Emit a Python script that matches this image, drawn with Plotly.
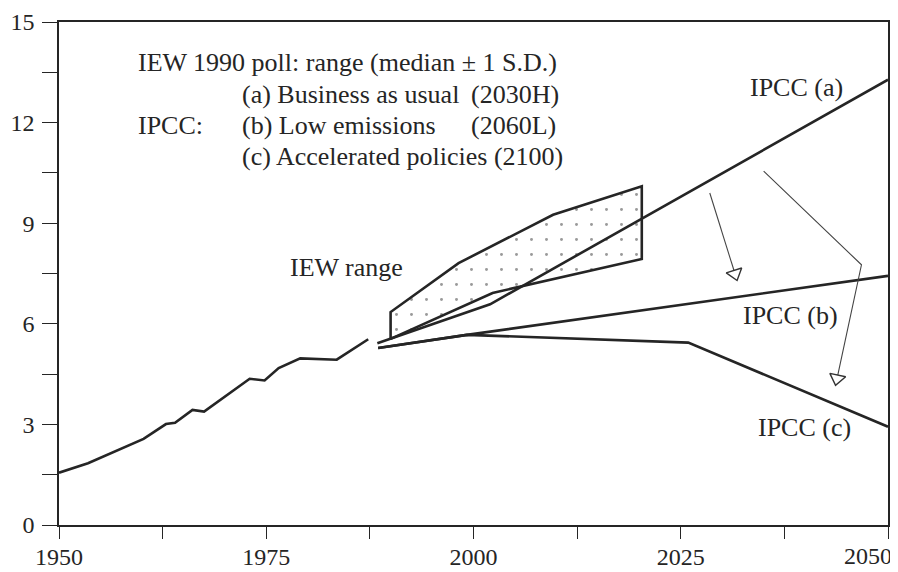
import math
import plotly.graph_objects as go

# ---- data ----
hist_years = [1950, 1953.5, 1960.2, 1962.9, 1964.0, 1966.1, 1967.5, 1973.0, 1974.8, 1976.5, 1979.1, 1983.5, 1987.3]
hist_vals = [1.56, 1.84, 2.57, 3.01, 3.05, 3.43, 3.38, 4.36, 4.31, 4.68, 4.97, 4.93, 5.54]

ipcc_a_years = [1988.4, 2002.0, 2050]
ipcc_a_vals = [5.42, 6.58, 13.28]

ipcc_b_years = [1988.5, 1999.2, 2050]
ipcc_b_vals = [5.28, 5.67, 7.43]

ipcc_c_years = [1988.5, 1999.2, 2025.9, 2050]
ipcc_c_vals = [5.28, 5.67, 5.44, 2.93]

iew_years = [1990, 1990, 1998.2, 2009.6, 2020.3, 2020.3, 2002.3, 1990]
iew_vals = [5.55, 6.35, 7.81, 9.25, 10.1, 7.93, 6.92, 5.55]

arrow1_years = [2028.5, 2031.9]
arrow1_vals = [9.90, 7.21]
arrow2_years = [2035.0, 2046.8, 2043.6]
arrow2_vals = [10.55, 7.76, 4.08]

x_ticks = [1950, 1962.5, 1975, 1987.5, 2000, 2012.5, 2025, 2037.5, 2050]
x_labels = ["1950", "", "1975", "", "2000", "", "2025", "", ""]
last_x_label = (2050, "2050")
y_ticks = [0, 1.5, 3, 4.5, 6, 7.5, 9, 10.5, 12, 13.5, 15]
y_labels = ["0", "", "3", "", "6", "", "9", "", "12", "", "15"]

legend_lines = [
    (1959.3, 13.80, "IEW 1990 poll: range (median ± 1 S.D.)"),
    (1971.8, 12.83, "(a) Business as usual"),
    (1959.3, 11.92, "IPCC:"),
    (1971.8, 11.92, "(b) Low emissions"),
    (1971.8, 10.98, "(c) Accelerated policies (2100)"),
    (1999.4, 12.83, "(2030H)"),
    (1999.4, 11.92, "(2060L)"),
]
curve_labels = [
    (2039.0, 13.05, "IPCC (a)"),
    (2038.2, 6.25, "IPCC (b)"),
    (2039.9, 2.90, "IPCC (c)"),
    (1984.7, 7.67, "IEW range"),
]

# ---- layout geometry (page body has an 8px default margin) ----
W, H = 890, 564
ML, MR, MT, MB = 51, 10, 14, 47
XR = [1950, 2050]
YR = [0, 15]
pxx = (W - ML - MR) / (XR[1] - XR[0])
pxy = (H - MT - MB) / (YR[1] - YR[0])

INK = "#252525"
FONT = "Liberation Serif"
TXT = 26
TICK = 24

fig = go.Figure()

fig.add_trace(go.Scatter(
    x=iew_years, y=iew_vals, mode="lines", fill="toself",
    fillcolor="white",
    fillpattern=dict(shape=".", size=15, solidity=0.03, fgcolor="#333333", bgcolor="white"),
    line=dict(color=INK, width=2.6), hoverinfo="skip"))

for xs, ys in [(hist_years, hist_vals), (ipcc_a_years, ipcc_a_vals),
               (ipcc_b_years, ipcc_b_vals), (ipcc_c_years, ipcc_c_vals)]:
    fig.add_trace(go.Scatter(x=xs, y=ys, mode="lines",
                             line=dict(color=INK, width=2.6), hoverinfo="skip"))

# arrows with open triangle heads
SIZE = 14
for xs, ys in [(arrow1_years, arrow1_vals), (arrow2_years, arrow2_vals)]:
    x0, y0, x1, y1 = xs[-2], ys[-2], xs[-1], ys[-1]
    dxp = (x1 - x0) * pxx
    dyp = -(y1 - y0) * pxy
    L = math.hypot(dxp, dyp)
    ux, uy = dxp / L, dyp / L
    r = SIZE / 2
    rs = r * math.sqrt(2)
    cx = x1 - ux * rs / pxx
    cy = y1 + uy * rs / pxy
    ang = math.degrees(math.atan2(-dxp, dyp))
    fig.add_trace(go.Scatter(x=list(xs[:-1]) + [cx], y=list(ys[:-1]) + [cy], mode="lines",
                             line=dict(color="#444444", width=1.1), hoverinfo="skip"))
    fig.add_trace(go.Scatter(x=[cx], y=[cy], mode="markers",
                             marker=dict(symbol="triangle-down", size=SIZE, angle=ang,
                                         color="white", line=dict(color="#333333", width=1.4)),
                             hoverinfo="skip"))

for x, y, t in legend_lines:
    fig.add_annotation(x=x, y=y, text=t, showarrow=False, xanchor="left", yanchor="middle",
                       font=dict(family=FONT, size=TXT, color=INK))
for x, y, t in curve_labels:
    fig.add_annotation(x=x, y=y, text=t, showarrow=False, xanchor="center", yanchor="middle",
                       font=dict(family=FONT, size=TXT, color=INK))

# last x tick label, kept inside the page like the reference
fig.add_annotation(x=last_x_label[0], y=0, text=last_x_label[1], showarrow=False,
                   xanchor="right", yanchor="top", xshift=6, yshift=-16,
                   font=dict(family=FONT, size=TICK, color=INK))

axis_common = dict(showgrid=False, zeroline=False, showline=True, linecolor=INK, linewidth=1.6,
                   mirror=True, ticks="outside", tickcolor=INK, tickwidth=1.4, automargin=False,
                   tickfont=dict(family=FONT, size=TICK, color=INK))
fig.update_xaxes(range=XR, tickmode="array", tickvals=x_ticks, ticktext=x_labels, ticklen=12,
                 ticklabelstandoff=-3, **axis_common)
fig.update_yaxes(range=YR, tickmode="array", tickvals=y_ticks, ticktext=y_labels, ticklen=15,
                 ticklabelstandoff=3, **axis_common)

fig.update_layout(width=W, height=H, margin=dict(l=ML, r=MR, t=MT, b=MB),
                  paper_bgcolor="white", plot_bgcolor="white", showlegend=False)

fig.write_html("out.html")
